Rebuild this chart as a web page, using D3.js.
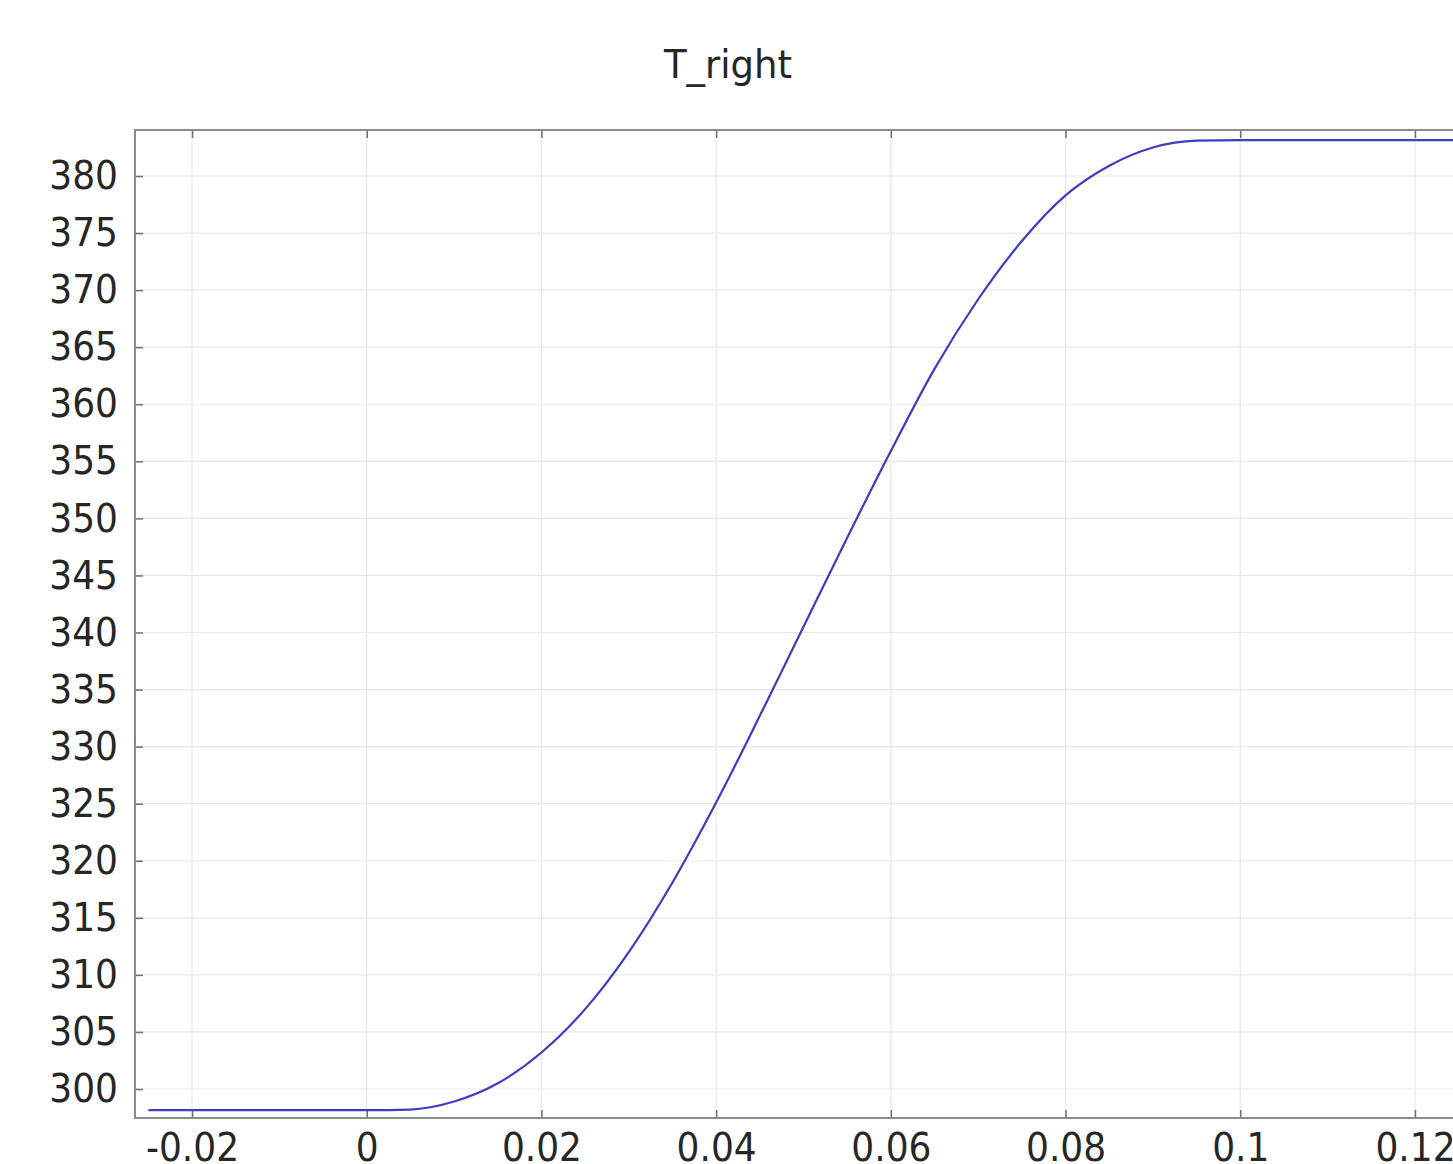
<!DOCTYPE html>
<html>
<head>
<meta charset="utf-8">
<script src="https://cdn.jsdelivr.net/npm/d3@7/dist/d3.min.js"></script>
<style>
  html, body { margin: 0; padding: 0; background: #fff; overflow: hidden; }
  text { font-family: "DejaVu Sans", sans-serif; fill: #262626; }
</style>
</head>
<body>
<svg id="chart" width="1453" height="1164"></svg>
<script>
// ---- data ----
const title = "T_right";
const xValues = [-0.025, -0.02, -0.01, 0, 0.005, 0.01, 0.015, 0.02, 0.025, 0.03, 0.035, 0.04, 0.045, 0.05, 0.055, 0.06, 0.065, 0.07, 0.075, 0.08, 0.085, 0.09, 0.095, 0.1, 0.11, 0.12, 0.125];
const tValues = [298.15, 298.15, 298.15, 298.15, 298.2, 298.9, 300.5, 303.2, 307.0, 312.0, 318.1, 325.1, 332.7, 340.5, 348.3, 355.9, 363.1, 369.2, 374.3, 378.3, 380.9, 382.5, 383.1, 383.15, 383.15, 383.15, 383.15];
const xTicks = [-0.02, 0, 0.02, 0.04, 0.06, 0.08, 0.1, 0.12];
const xTickLabels = ["-0.02", "0", "0.02", "0.04", "0.06", "0.08", "0.1", "0.12"];
const yTicks = [300, 305, 310, 315, 320, 325, 330, 335, 340, 345, 350, 355, 360, 365, 370, 375, 380];

// ---- layout ----
const pL = 135, pT = 130, pR = 1472, pB = 1118;
const svg = d3.select("#chart");

const x = d3.scaleLinear().domain([-0.02653, 0.12653]).range([pL, pR]);
const y = d3.scaleLinear().domain([297.46, 384.03]).range([pB, pT]);

const points = xValues.map((v, i) => ({ x: v, t: tValues[i] }));

svg.append("defs").append("clipPath").attr("id", "clip")
  .append("rect").attr("x", pL).attr("y", pT).attr("width", pR - pL).attr("height", pB - pT);

// grid
const grid = svg.append("g");
grid.selectAll("line.gx").data(xTicks).join("line").attr("class", "gx")
  .attr("x1", d => x(d)).attr("x2", d => x(d))
  .attr("y1", pT).attr("y2", pB)
  .attr("stroke", "#e8e8e8").attr("stroke-width", 1.2);
grid.selectAll("line.gy").data(yTicks).join("line").attr("class", "gy")
  .attr("x1", pL).attr("x2", pR)
  .attr("y1", d => y(d)).attr("y2", d => y(d))
  .attr("stroke", "#e8e8e8").attr("stroke-width", 1.2);

// axes with inward ticks
const tickLen = 8;
const axB = svg.append("g").attr("transform", `translate(0,${pB})`)
  .call(d3.axisBottom(x).tickValues(xTicks).tickSize(-tickLen).tickFormat((d, i) => xTickLabels[i]).tickPadding(tickLen + 7));
const axT = svg.append("g").attr("transform", `translate(0,${pT})`)
  .call(d3.axisTop(x).tickValues(xTicks).tickSize(-tickLen).tickFormat(""));
const axL = svg.append("g").attr("transform", `translate(${pL},0)`)
  .call(d3.axisLeft(y).tickValues(yTicks).tickSize(-tickLen).tickFormat(d3.format("d")).tickPadding(tickLen + 9));
const axR = svg.append("g").attr("transform", `translate(${pR},0)`)
  .call(d3.axisRight(y).tickValues(yTicks).tickSize(-tickLen).tickFormat(""));

[axB, axT, axL, axR].forEach(a => {
  a.select(".domain").remove();
  a.selectAll(".tick line").attr("stroke", "#6e6e6e").attr("stroke-width", 1.5);
  a.selectAll("text").style("font-family", "'DejaVu Sans', sans-serif").attr("fill", "#262626");
});
axB.selectAll("text").attr("font-size", 36).attr("dy", "0.71em");
axL.selectAll("text").attr("font-size", 36);
axB.selectAll(".tick text").attr("transform", function() {
  const yy = +d3.select(this).attr("y");
  return `translate(0,${yy}) scale(1,1.1) translate(0,${-yy})`;
});
axL.selectAll(".tick text").attr("transform", "scale(1,1.1)");

// frame
svg.append("rect").attr("x", pL).attr("y", pT).attr("width", pR - pL).attr("height", pB - pT)
  .attr("fill", "none").attr("stroke", "#8a8a8a").attr("stroke-width", 2);

// line
const line = d3.line().x(d => x(d.x)).y(d => y(d.t)).curve(d3.curveMonotoneX);
svg.append("path").datum(points)
  .attr("clip-path", "url(#clip)")
  .attr("d", line)
  .attr("fill", "none").attr("stroke", "#3d3dc4").attr("stroke-width", 2.2);

// title
svg.append("text").attr("x", 728).attr("y", 78).attr("text-anchor", "middle")
  .attr("font-size", 37).text(title)
  .attr("transform", "translate(0,78) scale(1,1.05) translate(0,-78)");
</script>
</body>
</html>
